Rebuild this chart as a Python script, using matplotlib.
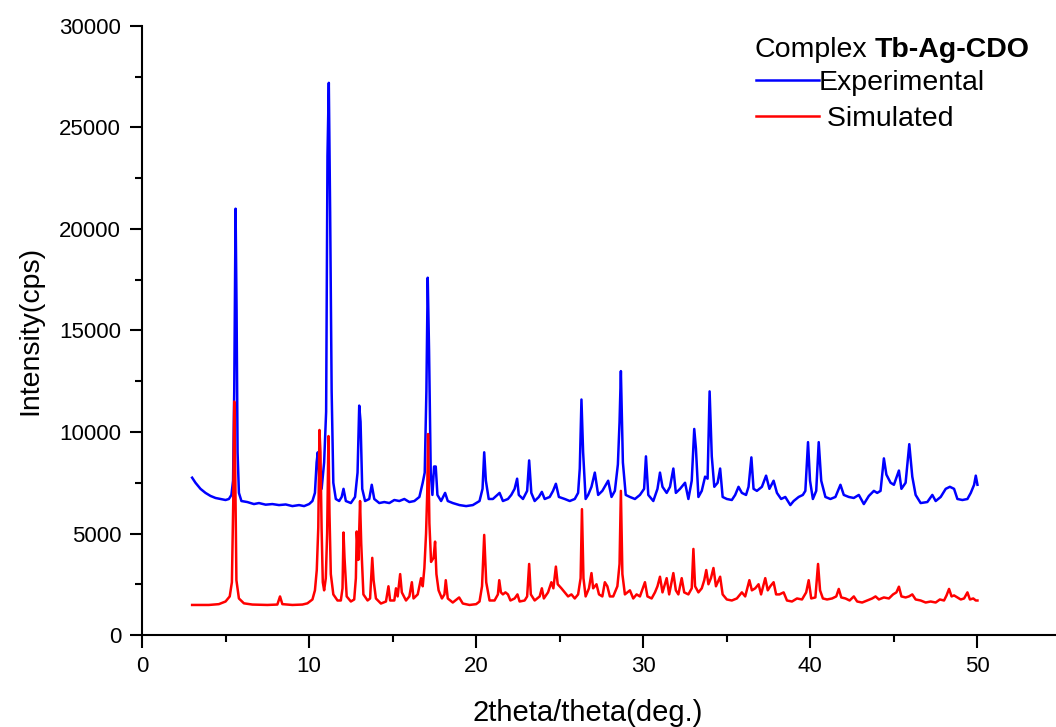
import numpy as np
import matplotlib
matplotlib.use("Agg")
import matplotlib.pyplot as plt
from matplotlib.ticker import MultipleLocator

plt.rcParams['font.family'] = ['Liberation Sans', 'DejaVu Sans']

###########################################
# data (2theta, cps)
###########################################
exp_2theta = [
    3.0, 3.2, 3.5, 3.8, 4.1, 4.4, 4.7, 5.0, 5.2, 5.35,
    5.45, 5.52, 5.6, 5.66, 5.72, 5.8, 5.95, 6.3, 6.7, 7.0,
    7.4, 7.8, 8.2, 8.6, 9.0, 9.4, 9.7, 10.0, 10.2, 10.35,
    10.45, 10.52, 10.62, 10.75, 10.9, 11.02, 11.1, 11.18, 11.26, 11.35,
    11.45, 11.6, 11.8, 11.95, 12.06, 12.2, 12.5, 12.75, 12.9, 13.0,
    13.08, 13.18, 13.35, 13.6, 13.75, 13.9, 14.2, 14.5, 14.8, 15.1,
    15.4, 15.7, 16.0, 16.3, 16.6, 16.8, 16.92, 17.02, 17.1, 17.18,
    17.28, 17.38, 17.48, 17.58, 17.68, 17.9, 18.14, 18.3, 18.6, 19.0,
    19.4, 19.8, 20.2, 20.38, 20.48, 20.58, 20.75, 21.0, 21.4, 21.6,
    21.9, 22.1, 22.3, 22.45, 22.55, 22.8, 23.05, 23.17, 23.3, 23.5,
    23.75, 23.93, 24.1, 24.4, 24.6, 24.77, 24.95, 25.3, 25.6, 25.9,
    26.1, 26.2, 26.3, 26.4, 26.55, 26.7, 26.9, 27.1, 27.3, 27.55,
    27.9, 28.1, 28.3, 28.48, 28.58, 28.66, 28.78, 28.95, 29.2, 29.5,
    29.8, 30.05, 30.16, 30.3, 30.6, 30.85, 31.0, 31.15, 31.4, 31.6,
    31.8, 31.95, 32.2, 32.5, 32.7, 32.9, 33.05, 33.15, 33.3, 33.5,
    33.7, 33.85, 33.97, 34.1, 34.25, 34.45, 34.6, 34.75, 35.0, 35.3,
    35.5, 35.7, 35.9, 36.15, 36.3, 36.47, 36.6, 36.8, 37.1, 37.35,
    37.55, 37.8, 38.0, 38.25, 38.5, 38.8, 39.0, 39.3, 39.55, 39.7,
    39.86, 39.98, 40.15, 40.35, 40.5, 40.65, 40.9, 41.2, 41.5, 41.8,
    42.0, 42.3, 42.6, 42.9, 43.2, 43.5, 43.8, 44.0, 44.2, 44.4,
    44.55, 44.8, 45.0, 45.3, 45.45, 45.7, 45.92, 46.1, 46.3, 46.6,
    47.0, 47.3, 47.5, 47.8, 48.1, 48.35, 48.6, 48.8, 49.1, 49.4,
    49.6, 49.8, 49.9, 50.0,
]
exp_counts = [
    7750, 7500, 7200, 7000, 6850, 6750, 6700, 6650, 6700, 6900,
    7600, 12000, 21000, 16000, 9000, 7000, 6600, 6550, 6450, 6500,
    6420, 6450, 6400, 6430, 6350, 6400, 6350, 6450, 6600, 7000,
    8500, 9000, 7600, 7200, 8500, 11000, 23600, 27200, 20800, 12000,
    7500, 6700, 6600, 6800, 7200, 6600, 6500, 6800, 8000, 11300,
    10500, 7200, 6600, 6700, 7400, 6700, 6500, 6550, 6500, 6650,
    6600, 6700, 6550, 6600, 6800, 7500, 8000, 12000, 17600, 14000,
    8000, 6900, 8300, 8300, 6900, 6600, 7000, 6600, 6500, 6400,
    6350, 6400, 6600, 7200, 9000, 7600, 6700, 6700, 7000, 6600,
    6700, 6900, 7200, 7700, 6900, 6700, 7100, 8600, 7000, 6600,
    6800, 7050, 6700, 6800, 7100, 7450, 6800, 6700, 6600, 6700,
    7000, 8200, 11600, 9000, 6700, 6900, 7300, 8000, 6900, 7100,
    7600, 6800, 7100, 8400, 10500, 13000, 8500, 6900, 6800, 6700,
    6900, 7200, 8800, 6900, 6600, 7200, 8000, 7300, 7000, 7300,
    8200, 7000, 7200, 7500, 6700, 7600, 10150, 9200, 6800, 7100,
    7800, 7700, 12000, 8800, 7300, 7500, 8200, 6800, 6700, 6650,
    6900, 7300, 7000, 6900, 7300, 8750, 7200, 7100, 7300, 7850,
    7200, 7600, 7000, 6700, 6800, 6400, 6600, 6800, 6900, 7100,
    9500, 7600, 6700, 7100, 9500, 7600, 6800, 6700, 6800, 7400,
    6900, 6800, 6750, 6900, 6450, 6850, 7100, 7000, 7100, 8700,
    7900, 7500, 7400, 8100, 7200, 7500, 9400, 7800, 6900, 6500,
    6550, 6900, 6600, 6800, 7200, 7300, 7200, 6700, 6650, 6700,
    7000, 7400, 7850, 7400,
]

sim_2theta = [
    3.0, 4.0, 4.6, 5.0, 5.25, 5.38, 5.46, 5.52, 5.58, 5.65,
    5.8, 6.1, 6.6, 7.5, 8.1, 8.26, 8.4, 9.0, 9.6, 9.9,
    10.2, 10.35, 10.46, 10.55, 10.62, 10.68, 10.75, 10.82, 10.9, 11.0,
    11.08, 11.16, 11.22, 11.3, 11.45, 11.7, 11.9, 12.0, 12.06, 12.12,
    12.25, 12.5, 12.7, 12.8, 12.85, 12.95, 13.05, 13.12, 13.25, 13.5,
    13.65, 13.78, 13.86, 14.0, 14.3, 14.6, 14.75, 14.85, 15.1, 15.2,
    15.3, 15.45, 15.55, 15.8, 16.0, 16.15, 16.25, 16.5, 16.7, 16.8,
    16.9, 17.0, 17.07, 17.12, 17.2, 17.3, 17.45, 17.54, 17.62, 17.75,
    17.95, 18.1, 18.18, 18.3, 18.6, 18.98, 19.2, 19.6, 20.0, 20.2,
    20.35, 20.48, 20.6, 20.8, 21.1, 21.3, 21.38, 21.48, 21.6, 21.75,
    21.9, 22.05, 22.3, 22.47, 22.6, 22.9, 23.05, 23.17, 23.27, 23.5,
    23.8, 23.93, 24.05, 24.3, 24.5, 24.62, 24.77, 24.88, 25.1, 25.3,
    25.5, 25.7, 25.9, 26.1, 26.25, 26.33, 26.42, 26.55, 26.75, 26.9,
    27.0, 27.2, 27.35, 27.55, 27.7, 27.85, 28.0, 28.2, 28.45, 28.58,
    28.66, 28.75, 28.9, 29.2, 29.4, 29.6, 29.8, 30.1, 30.25, 30.5,
    30.7, 30.85, 31.0, 31.15, 31.4, 31.55, 31.8, 31.95, 32.1, 32.3,
    32.45, 32.7, 32.9, 33.0, 33.1, 33.3, 33.5, 33.65, 33.77, 33.9,
    34.05, 34.2, 34.35, 34.6, 34.75, 35.0, 35.3, 35.6, 35.9, 36.1,
    36.35, 36.5, 36.7, 36.9, 37.05, 37.3, 37.45, 37.6, 37.8, 37.95,
    38.15, 38.4, 38.6, 38.9, 39.2, 39.5, 39.75, 39.9, 40.05, 40.3,
    40.46, 40.58, 40.75, 41.0, 41.3, 41.55, 41.7, 41.85, 42.1, 42.35,
    42.6, 42.8, 43.1, 43.4, 43.7, 43.9, 44.1, 44.4, 44.7, 44.95,
    45.15, 45.3, 45.45, 45.7, 45.9, 46.1, 46.3, 46.6, 46.9, 47.2,
    47.5, 47.75, 48.0, 48.15, 48.3, 48.45, 48.6, 48.8, 49.0, 49.2,
    49.4, 49.55, 49.75, 49.9, 50.0,
]
sim_counts = [
    1480, 1480, 1520, 1650, 1900, 2600, 6500, 11500, 8000, 2700,
    1800, 1560, 1500, 1480, 1500, 1900, 1520, 1480, 1500, 1560,
    1750, 2200, 3200, 5300, 10100, 9000, 5200, 2600, 2200, 2800,
    5000, 9800, 6000, 3000, 2000, 1700, 1700, 2300, 5050, 3800,
    1900, 1650, 1750, 2800, 5100, 3700, 6600, 4500, 2000, 1700,
    1800, 3800, 2700, 1800, 1550, 1650, 2400, 1700, 1700, 2300,
    1900, 3000, 2100, 1700, 1900, 2600, 1800, 2000, 2800, 2400,
    3300, 5000, 7000, 9900, 5500, 3600, 3800, 4600, 3000, 2200,
    1800, 2000, 2700, 1800, 1600, 1850, 1550, 1480, 1520, 1650,
    2400, 4930, 2600, 1700, 1700, 2000, 2700, 2100, 2000, 2100,
    2000, 1700, 1800, 2000, 1650, 1700, 1900, 3500, 2000, 1700,
    1900, 2300, 1800, 2100, 2600, 2300, 3370, 2500, 2300, 2100,
    1900, 2000, 1800, 2000, 2800, 6200, 2800, 1900, 2300, 3050,
    2300, 2500, 2000, 1900, 2600, 2400, 1900, 1900, 2400, 3500,
    7100, 3000, 2000, 2200, 1800, 2000, 1900, 2600, 1900, 1800,
    2100, 2400, 2870, 2100, 2800, 2000, 3050, 2200, 2000, 2800,
    2100, 2000, 2300, 4240, 2400, 2100, 2300, 2700, 3200, 2500,
    2800, 3300, 2400, 2870, 2000, 1750, 1700, 1800, 2100, 1900,
    2700, 2200, 2300, 2500, 2000, 2800, 2200, 2400, 2600, 2000,
    2000, 2100, 1700, 1650, 1800, 1750, 2100, 2700, 1800, 1850,
    3500, 2200, 1800, 1750, 1800, 1900, 2270, 1850, 1800, 1700,
    1900, 1650, 1600, 1700, 1800, 1900, 1750, 1850, 1800, 2000,
    2100, 2380, 1900, 1850, 1900, 2000, 1750, 1700, 1600, 1650,
    1600, 1750, 1700, 1950, 2270, 1900, 1950, 1850, 1750, 1800,
    2100, 1750, 1800, 1700, 1700,
]

###########################################
# figure
###########################################
fig = plt.figure(figsize=(10.56, 7.27), dpi=100)
ax = fig.add_axes([142 / 1056, 92 / 727, 919 / 1056, 609 / 727])

exp_line, = ax.plot(exp_2theta, exp_counts, color='#0000ff', linewidth=1.8)
sim_line, = ax.plot(sim_2theta, sim_counts, color='#ff0000', linewidth=1.8)

ax.set_xlim(0, 55)
ax.set_ylim(0, 30000)
ax.xaxis.set_major_locator(MultipleLocator(10))
ax.xaxis.set_minor_locator(MultipleLocator(5))
ax.yaxis.set_major_locator(MultipleLocator(5000))
ax.yaxis.set_minor_locator(MultipleLocator(2500))

ax.spines['top'].set_visible(False)
ax.spines['right'].set_visible(False)
for s in ('left', 'bottom'):
    ax.spines[s].set_linewidth(1.5)
ax.tick_params(which='major', direction='out', length=9, width=1.5,
               labelsize=16, pad=6)
ax.tick_params(which='minor', direction='out', length=5, width=1.5)

ax.set_xlabel('2theta/theta(deg.)', fontsize=21, va='center')
ax.set_ylabel('Intensity(cps)', fontsize=20.5, va='center')
ax.xaxis.set_label_coords(0.485, -0.128)
ax.yaxis.set_label_coords(-0.122, 0.5)

# legend with a two-part title
t1 = fig.text(755 / 1056, (727 - 50) / 727, 'Complex', fontsize=20.5,
              va='center', ha='left')
ax.annotate('Tb-Ag-CDO', xy=(1, 0.5), xycoords=t1, xytext=(5, 0),
            textcoords='offset points', fontsize=20.5, fontweight='bold',
            va='center', ha='left')
ax.legend([exp_line, sim_line], ['Experimental', ' Simulated'],
          loc='upper left', bbox_to_anchor=(756 / 1056, (727 - 70) / 727),
          bbox_transform=fig.transFigure, frameon=False, fontsize=20.5,
          handlelength=2.2, handletextpad=0.0, borderpad=0,
          borderaxespad=0, labelspacing=0.36)

fig.savefig('out.png', dpi=100)
